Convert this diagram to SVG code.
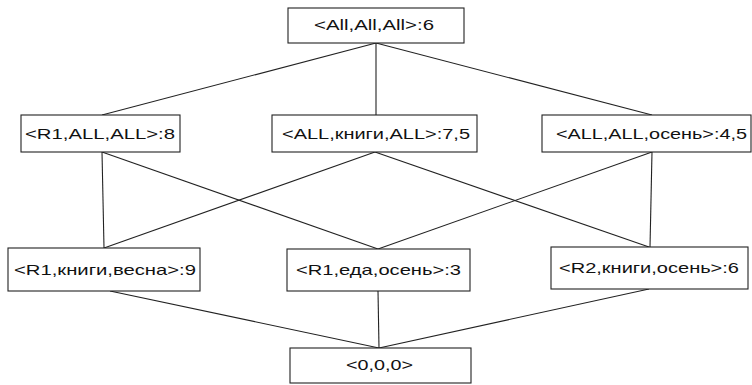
<svg xmlns="http://www.w3.org/2000/svg" width="752" height="385" viewBox="0 0 752 385">
<style>
.box{fill:#fff;stroke:#222;stroke-width:1.1}
.lbl{font-family:"Liberation Sans",Arial,sans-serif;font-size:15px;fill:#111}
.edge{stroke:#222;stroke-width:1.1;fill:none}
</style>
<rect width="752" height="385" fill="#fff"/>
<g id="connectors">
<line class="edge" x1="376" y1="43" x2="102" y2="115"/>
<line class="edge" x1="376" y1="43" x2="376" y2="115"/>
<line class="edge" x1="376" y1="43" x2="652" y2="115"/>
<line class="edge" x1="102" y1="152" x2="104" y2="248"/>
<line class="edge" x1="102" y1="152" x2="378" y2="249"/>
<line class="edge" x1="375" y1="152" x2="104" y2="248"/>
<line class="edge" x1="375" y1="152" x2="649" y2="247"/>
<line class="edge" x1="652" y1="152" x2="378" y2="249"/>
<line class="edge" x1="652" y1="152" x2="650" y2="247"/>
<line class="edge" x1="110" y1="291" x2="379" y2="348"/>
<line class="edge" x1="378" y1="291" x2="379" y2="348"/>
<line class="edge" x1="649" y1="289" x2="379" y2="348"/>
</g>
<g id="n_all">
<rect class="box" x="288" y="8" width="176" height="35"/>
<text class="lbl" x="314" y="30" textLength="120" lengthAdjust="spacingAndGlyphs">&lt;All,All,All&gt;:6</text>
</g>
<g id="n_r1">
<rect class="box" x="21" y="115" width="159" height="37"/>
<text class="lbl" x="25" y="139" textLength="150" lengthAdjust="spacingAndGlyphs">&lt;R1,ALL,ALL&gt;:8</text>
</g>
<g id="n_books">
<rect class="box" x="272" y="115" width="205" height="37"/>
<text class="lbl" x="282" y="139" textLength="188" lengthAdjust="spacingAndGlyphs">&lt;ALL,книги,ALL&gt;:7,5</text>
</g>
<g id="n_autumn">
<rect class="box" x="542" y="115" width="209" height="37"/>
<text class="lbl" x="556" y="139" textLength="191" lengthAdjust="spacingAndGlyphs">&lt;ALL,ALL,осень&gt;:4,5</text>
</g>
<g id="n_r1_books_spring">
<rect class="box" x="8" y="248" width="192" height="43"/>
<text class="lbl" x="14" y="275" textLength="182" lengthAdjust="spacingAndGlyphs">&lt;R1,книги,весна&gt;:9</text>
</g>
<g id="n_r1_food_autumn">
<rect class="box" x="287" y="249" width="183" height="42"/>
<text class="lbl" x="296" y="275" textLength="165" lengthAdjust="spacingAndGlyphs">&lt;R1,еда,осень&gt;:3</text>
</g>
<g id="n_r2_books_autumn">
<rect class="box" x="551" y="247" width="197" height="42"/>
<text class="lbl" x="559" y="273" textLength="180" lengthAdjust="spacingAndGlyphs">&lt;R2,книги,осень&gt;:6</text>
</g>
<g id="n_bottom">
<rect class="box" x="290" y="348" width="181" height="35"/>
<text class="lbl" x="346" y="370" textLength="67" lengthAdjust="spacingAndGlyphs">&lt;0,0,0&gt;</text>
</g>
</svg>
